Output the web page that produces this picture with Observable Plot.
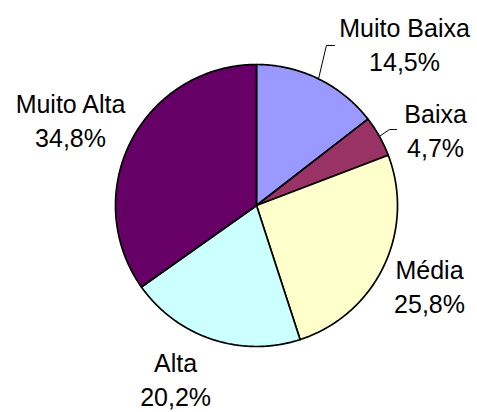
<!DOCTYPE html>
<html>
<head>
<meta charset="utf-8">
<script src="https://cdn.jsdelivr.net/npm/d3@7"></script>
<script src="https://cdn.jsdelivr.net/npm/@observablehq/plot@0.6"></script>
<style>
  html, body { margin: 0; padding: 0; background: #fff; }
  #chart svg { display: block; }
</style>
</head>
<body>
<div id="chart"></div>
<script>
// Data
const categories = ["Muito Baixa", "Baixa", "Média", "Alta", "Muito Alta"];
const values = [14.5, 4.7, 25.8, 20.2, 34.8];
const pctLabels = ["14,5%", "4,7%", "25,8%", "20,2%", "34,8%"];

// Styles / layout (kept separate from data)
const colors = ["#9999FF", "#993366", "#FFFFCC", "#CCFFFF", "#660066"];
// label anchor positions in unit-circle coordinates (pie radius = 1)
const labelX = [1.05, 1.27, 1.227, -0.574, -1.319];
const labelY = [1.149, 0.539, -0.567, -1.226, 0.61];

const total = d3.sum(values);
const TAU = 2 * Math.PI;
const pt = (a, r) => ({x: r * Math.sin(a), y: r * Math.cos(a)});

// slice polygons
let acc = 0;
const slices = categories.map((name, i) => {
  const a0 = acc / total * TAU;
  acc += values[i];
  const a1 = acc / total * TAU;
  const n = Math.max(2, Math.ceil((a1 - a0) / (Math.PI / 360)));
  const pts = [{x: 0, y: 0}];
  for (let k = 0; k <= n; k++) pts.push(pt(a0 + (a1 - a0) * k / n, 1));
  pts.push({x: 0, y: 0});
  return {name, color: colors[i], pts, mid: (a0 + a1) / 2};
});

const labels = categories.map((name, i) => ({
  text: name + "\n" + pctLabels[i], x: labelX[i], y: labelY[i]
}));

// leader lines (Muito Baixa, Baixa)
const leader1 = [pt(slices[0].mid, 1), {x: 0.496, y: 1.135}, {x: 0.553, y: 1.135}];
const leader2 = [pt(slices[1].mid, 1), {x: 0.943, y: 0.539}, {x: 0.993, y: 0.539}];

const R = 141, cx = 256, cy = 205, W = 477, H = 412;

const marks = slices.map(s => Plot.line(s.pts, {
  x: "x", y: "y", fill: s.color, stroke: "#000", strokeWidth: 1.7,
  strokeLinejoin: "round", curve: "linear"
}));
marks.push(Plot.line(leader1, {x: "x", y: "y", stroke: "#000", strokeWidth: 1}));
marks.push(Plot.line(leader2, {x: "x", y: "y", stroke: "#000", strokeWidth: 1}));
marks.push(Plot.text(labels, {
  x: "x", y: "y", text: "text", fill: "#000", fontSize: 25,
  lineHeight: 1.34, textAnchor: "middle", lineAnchor: "middle"
}));

const chart = Plot.plot({
  width: W, height: H,
  marginLeft: cx - R, marginRight: W - (cx + R),
  marginTop: cy - R, marginBottom: H - (cy + R),
  x: {domain: [-1, 1], axis: null},
  y: {domain: [-1, 1], axis: null},
  style: {fontFamily: "'Liberation Sans', Arial, sans-serif", background: "#fff", overflow: "visible"},
  marks
});
document.getElementById("chart").appendChild(chart);
</script>
</body>
</html>
